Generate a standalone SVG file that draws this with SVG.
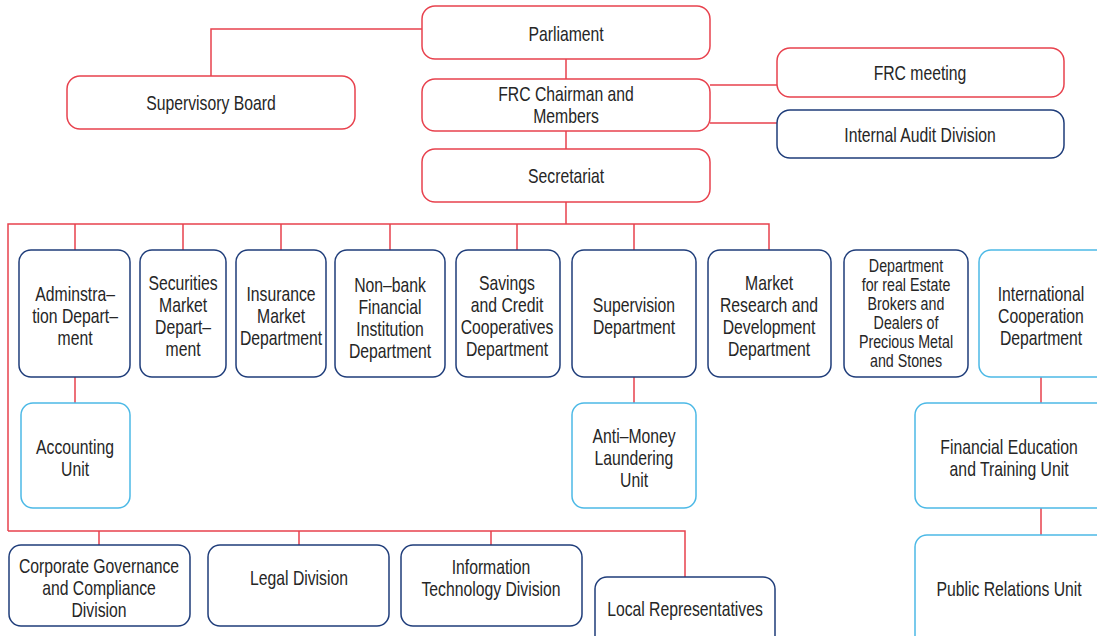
<svg xmlns="http://www.w3.org/2000/svg" width="1097" height="636" viewBox="0 0 1097 636">
<style>
.r{fill:#fff;stroke:#e8424e;stroke-width:1.5}
.b{fill:#fff;stroke:#1f3d7a;stroke-width:1.5}
.l{fill:#fff;stroke:#4cb9e6;stroke-width:1.5}
.c{fill:none;stroke:#e8424e;stroke-width:1.5}
text{font-family:"Liberation Sans",Arial,sans-serif;font-size:21px;fill:#262626;text-anchor:middle;transform-box:fill-box;transform-origin:center;transform:scaleX(0.75)}
.s{font-size:18.5px;transform:scaleX(0.77)}
</style>
<rect width="1097" height="636" fill="#fff"/>
<g id="connectors">
<path class="c" d="M422 29H211V76"/>
<path class="c" d="M566 59V79M566 131V149M566 202V224"/>
<path class="c" d="M710 85H777M710 123H777"/>
<path class="c" d="M8 531V224H769V250M75 224V250M183 224V250M281 224V250M390 224V250M517 224V250M634 224V250"/>
<path class="c" d="M75 377V403M634 377V403M1041 377V403M1041 508V535"/>
<path class="c" d="M8 531H685V577M99 531V545M299 531V545M491 531V545"/>
</g>
<g id="parliament"><rect class="r" x="422" y="6" width="288" height="53" rx="13"/><text x="566" y="41">Parliament</text></g>
<g id="supervisory-board"><rect class="r" x="67" y="76" width="288" height="53" rx="13"/><text x="211" y="110">Supervisory Board</text></g>
<g id="frc-chairman"><rect class="r" x="422" y="79" width="288" height="52" rx="13"/><text x="566" y="101">FRC Chairman and</text><text x="566" y="123">Members</text></g>
<g id="secretariat"><rect class="r" x="422" y="149" width="288" height="53" rx="13"/><text x="566" y="183">Secretariat</text></g>
<g id="frc-meeting"><rect class="r" x="777" y="48" width="287" height="49" rx="13"/><text x="920" y="80">FRC meeting</text></g>
<g id="internal-audit"><rect class="b" x="777" y="110" width="287" height="48" rx="13"/><text x="920" y="142">Internal Audit Division</text></g>
<g id="administration"><rect class="b" x="19" y="250" width="111" height="127" rx="12"/><text x="75" y="301">Adminstra–</text><text x="75" y="323">tion Depart–</text><text x="75" y="345">ment</text></g>
<g id="securities"><rect class="b" x="140" y="250" width="86" height="127" rx="12"/><text x="183" y="290">Securities</text><text x="183" y="312">Market</text><text x="183" y="334">Depart–</text><text x="183" y="356">ment</text></g>
<g id="insurance"><rect class="b" x="236" y="250" width="90" height="127" rx="12"/><text x="281" y="301">Insurance</text><text x="281" y="323">Market</text><text x="281" y="345">Department</text></g>
<g id="nonbank"><rect class="b" x="335" y="250" width="110" height="127" rx="12"/><text x="390" y="292">Non–bank</text><text x="390" y="314">Financial</text><text x="390" y="336">Institution</text><text x="390" y="358">Department</text></g>
<g id="savings"><rect class="b" x="456" y="250" width="104" height="127" rx="12"/><text x="507" y="290">Savings</text><text x="507" y="312">and Credit</text><text x="507" y="334">Cooperatives</text><text x="507" y="356">Department</text></g>
<g id="supervision"><rect class="b" x="572" y="250" width="124" height="127" rx="12"/><text x="634" y="312">Supervision</text><text x="634" y="334">Department</text></g>
<g id="market-research"><rect class="b" x="708" y="250" width="123" height="127" rx="12"/><text x="769" y="290">Market</text><text x="769" y="312">Research and</text><text x="769" y="334">Development</text><text x="769" y="356">Department</text></g>
<g id="real-estate"><rect class="b" x="844" y="250" width="124" height="127" rx="12"/><text class="s" x="906" y="272">Department</text><text class="s" x="906" y="291">for real Estate</text><text class="s" x="906" y="310">Brokers and</text><text class="s" x="906" y="329">Dealers of</text><text class="s" x="906" y="348">Precious Metal</text><text class="s" x="906" y="367">and Stones</text></g>
<g id="international"><rect class="l" x="979" y="250" width="130" height="127" rx="12"/><text x="1041" y="301">International</text><text x="1041" y="323">Cooperation</text><text x="1041" y="345">Department</text></g>
<g id="accounting"><rect class="l" x="21" y="403" width="109" height="105" rx="12"/><text x="75" y="454">Accounting</text><text x="75" y="476">Unit</text></g>
<g id="anti-money"><rect class="l" x="572" y="403" width="124" height="105" rx="12"/><text x="634" y="443">Anti–Money</text><text x="634" y="465">Laundering</text><text x="634" y="487">Unit</text></g>
<g id="financial-education"><rect class="l" x="915" y="403" width="200" height="105" rx="12"/><text x="1009" y="454">Financial Education</text><text x="1009" y="476">and Training Unit</text></g>
<g id="public-relations"><rect class="l" x="915" y="535" width="200" height="120" rx="12"/><text x="1009" y="596">Public Relations Unit</text></g>
<g id="corporate-governance"><rect class="b" x="9" y="545" width="181" height="81" rx="12"/><text x="99" y="573">Corporate Governance</text><text x="99" y="595">and Compliance</text><text x="99" y="617">Division</text></g>
<g id="legal"><rect class="b" x="208" y="545" width="181" height="81" rx="12"/><text x="299" y="585">Legal Division</text></g>
<g id="it"><rect class="b" x="401" y="545" width="181" height="81" rx="12"/><text x="491" y="574">Information</text><text x="491" y="596">Technology Division</text></g>
<g id="local-representatives"><rect class="b" x="595" y="577" width="180" height="80" rx="12"/><text x="685" y="616">Local Representatives</text></g>
</svg>
